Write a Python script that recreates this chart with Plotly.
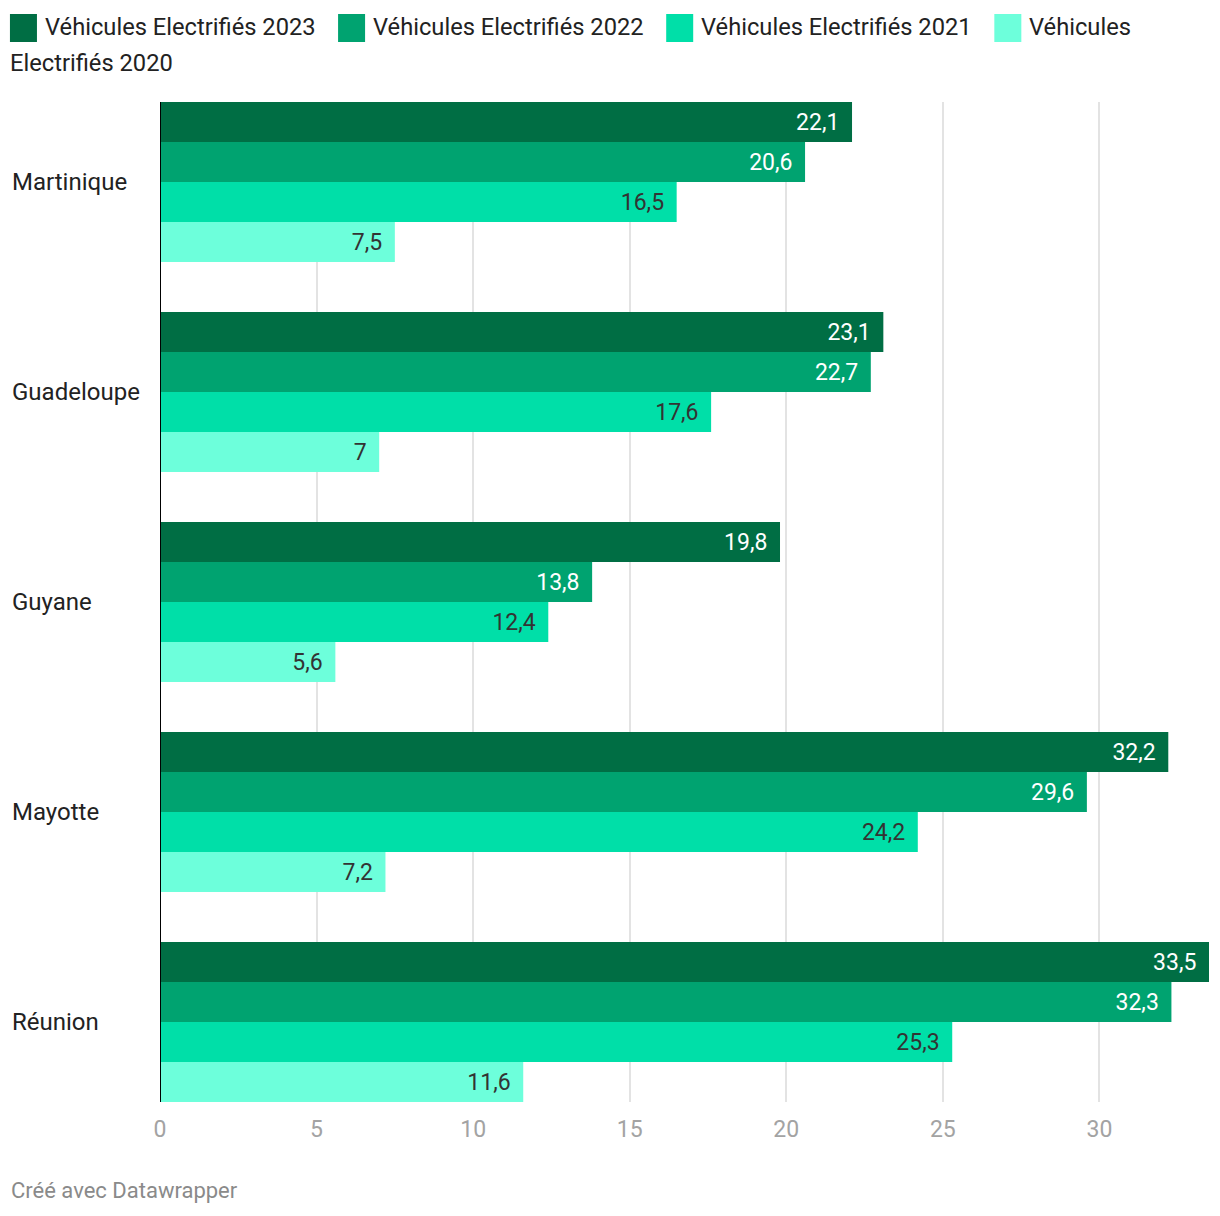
import plotly.graph_objects as go

categories = ["Martinique", "Guadeloupe", "Guyane", "Mayotte", "Réunion"]
series_names = ["Véhicules Electrifiés 2023", "Véhicules Electrifiés 2022",
                "Véhicules Electrifiés 2021", "Véhicules Electrifiés 2020"]
v2023 = [22.1, 23.1, 19.8, 32.2, 33.5]
v2022 = [20.6, 22.7, 13.8, 29.6, 32.3]
v2021 = [16.5, 17.6, 12.4, 24.2, 25.3]
v2020 = [7.5, 7.0, 5.6, 7.2, 11.6]
x_ticks = [0, 5, 10, 15, 20, 25, 30]

colors = ["#006e44", "#00a370", "#00dfa8", "#6dffdb"]
text_colors = ["#ffffff", "#ffffff", "#333333", "#333333"]
series_values = [v2023, v2022, v2021, v2020]

# page body has an 8px margin: build the figure in page coordinates minus 8
OFF = 8
PAGE_W, PAGE_H = 1220, 1216
W, H = PAGE_W - OFF, PAGE_H - OFF
PLOT_L, PLOT_R, PLOT_T, PLOT_B = 160, 1208.6, 102, 1102  # page coords
L = PLOT_L - OFF
R = PAGE_W - PLOT_R
T = PLOT_T - OFF
B = PAGE_H - PLOT_B
PW, PH = W - L - R, H - T - B
FONT = "Roboto"


def fmt(v):
    s = ("%g" % v).replace(".", ",")
    return s + "\u00a0\u2006"


def px(xp):
    # page x -> paper
    return (xp - PLOT_L) / PW


def py(yp):
    # page y -> paper
    return (PLOT_B - yp) / PH


fig = go.Figure()
for name, vals, c, tc in zip(series_names, series_values, colors, text_colors):
    fig.add_trace(go.Bar(
        y=categories, x=vals, name=name, orientation="h",
        marker=dict(color=c, line=dict(width=0)),
        text=[fmt(v) for v in vals], textposition="inside",
        insidetextanchor="end", constraintext="none",
        textfont=dict(family=FONT, size=23, color=tc),
        cliponaxis=False, hoverinfo="skip",
    ))

gap_units = 25 / 210

fig.update_layout(
    width=W, height=H,
    margin=dict(l=L, r=R, t=T, b=B, pad=0),
    paper_bgcolor="white", plot_bgcolor="white",
    barmode="group", bargap=50 / 210, bargroupgap=0,
    showlegend=False,
    font=dict(family=FONT, size=22, color="#222222"),
    xaxis=dict(range=[0, 33.5], tickvals=x_ticks, ticktext=[str(t) for t in x_ticks],
               showgrid=True, gridcolor="#e3e3e3", gridwidth=2,
               zeroline=False, showline=False, ticks="",
               tickfont=dict(family=FONT, size=23, color="#a3a3a3"),
               ticklabelstandoff=11, fixedrange=True),
    yaxis=dict(categoryorder="array", categoryarray=categories,
               range=[len(categories) - 0.5 - gap_units, -0.5 + gap_units],
               showticklabels=False, showgrid=False, zeroline=False,
               showline=False, ticks="", fixedrange=True),
)

# zero baseline
fig.add_shape(type="line", xref="x", yref="paper", x0=0, x1=0, y0=0, y1=1,
              line=dict(color="#000000", width=2), layer="above")

# category labels (left aligned)
for cat in categories:
    fig.add_annotation(x=px(12 - 2), xref="paper", y=cat, yref="y", text=cat,
                       showarrow=False, xanchor="left", yanchor="middle",
                       font=dict(family=FONT, size=24, color="#222222"))

# custom legend
legend_sq_x = [10, 338, 666, 994]
legend_labels = [series_names[0], series_names[1], series_names[2], "Véhicules"]
for i in range(4):
    x0 = legend_sq_x[i]
    fig.add_shape(type="rect", xref="paper", yref="paper",
                  x0=px(x0), x1=px(x0 + 27), y0=py(42), y1=py(14),
                  fillcolor=colors[i], line=dict(width=0))
    fig.add_annotation(x=px(x0 + 35 - 2), y=py(27), xref="paper", yref="paper",
                       text=legend_labels[i], showarrow=False,
                       xanchor="left", yanchor="middle",
                       font=dict(family=FONT, size=23.7, color="#222222"))
fig.add_annotation(x=px(10 - 2), y=py(63), xref="paper", yref="paper",
                   text="Electrifiés 2020", showarrow=False,
                   xanchor="left", yanchor="middle",
                   font=dict(family=FONT, size=23.7, color="#222222"))

# footer
fig.add_annotation(x=px(11 - 2), y=py(1190), xref="paper", yref="paper",
                   text="Créé avec Datawrapper", showarrow=False,
                   xanchor="left", yanchor="middle",
                   font=dict(family=FONT, size=22, color="#8a8a8a"))

fig.write_html("out.html")
